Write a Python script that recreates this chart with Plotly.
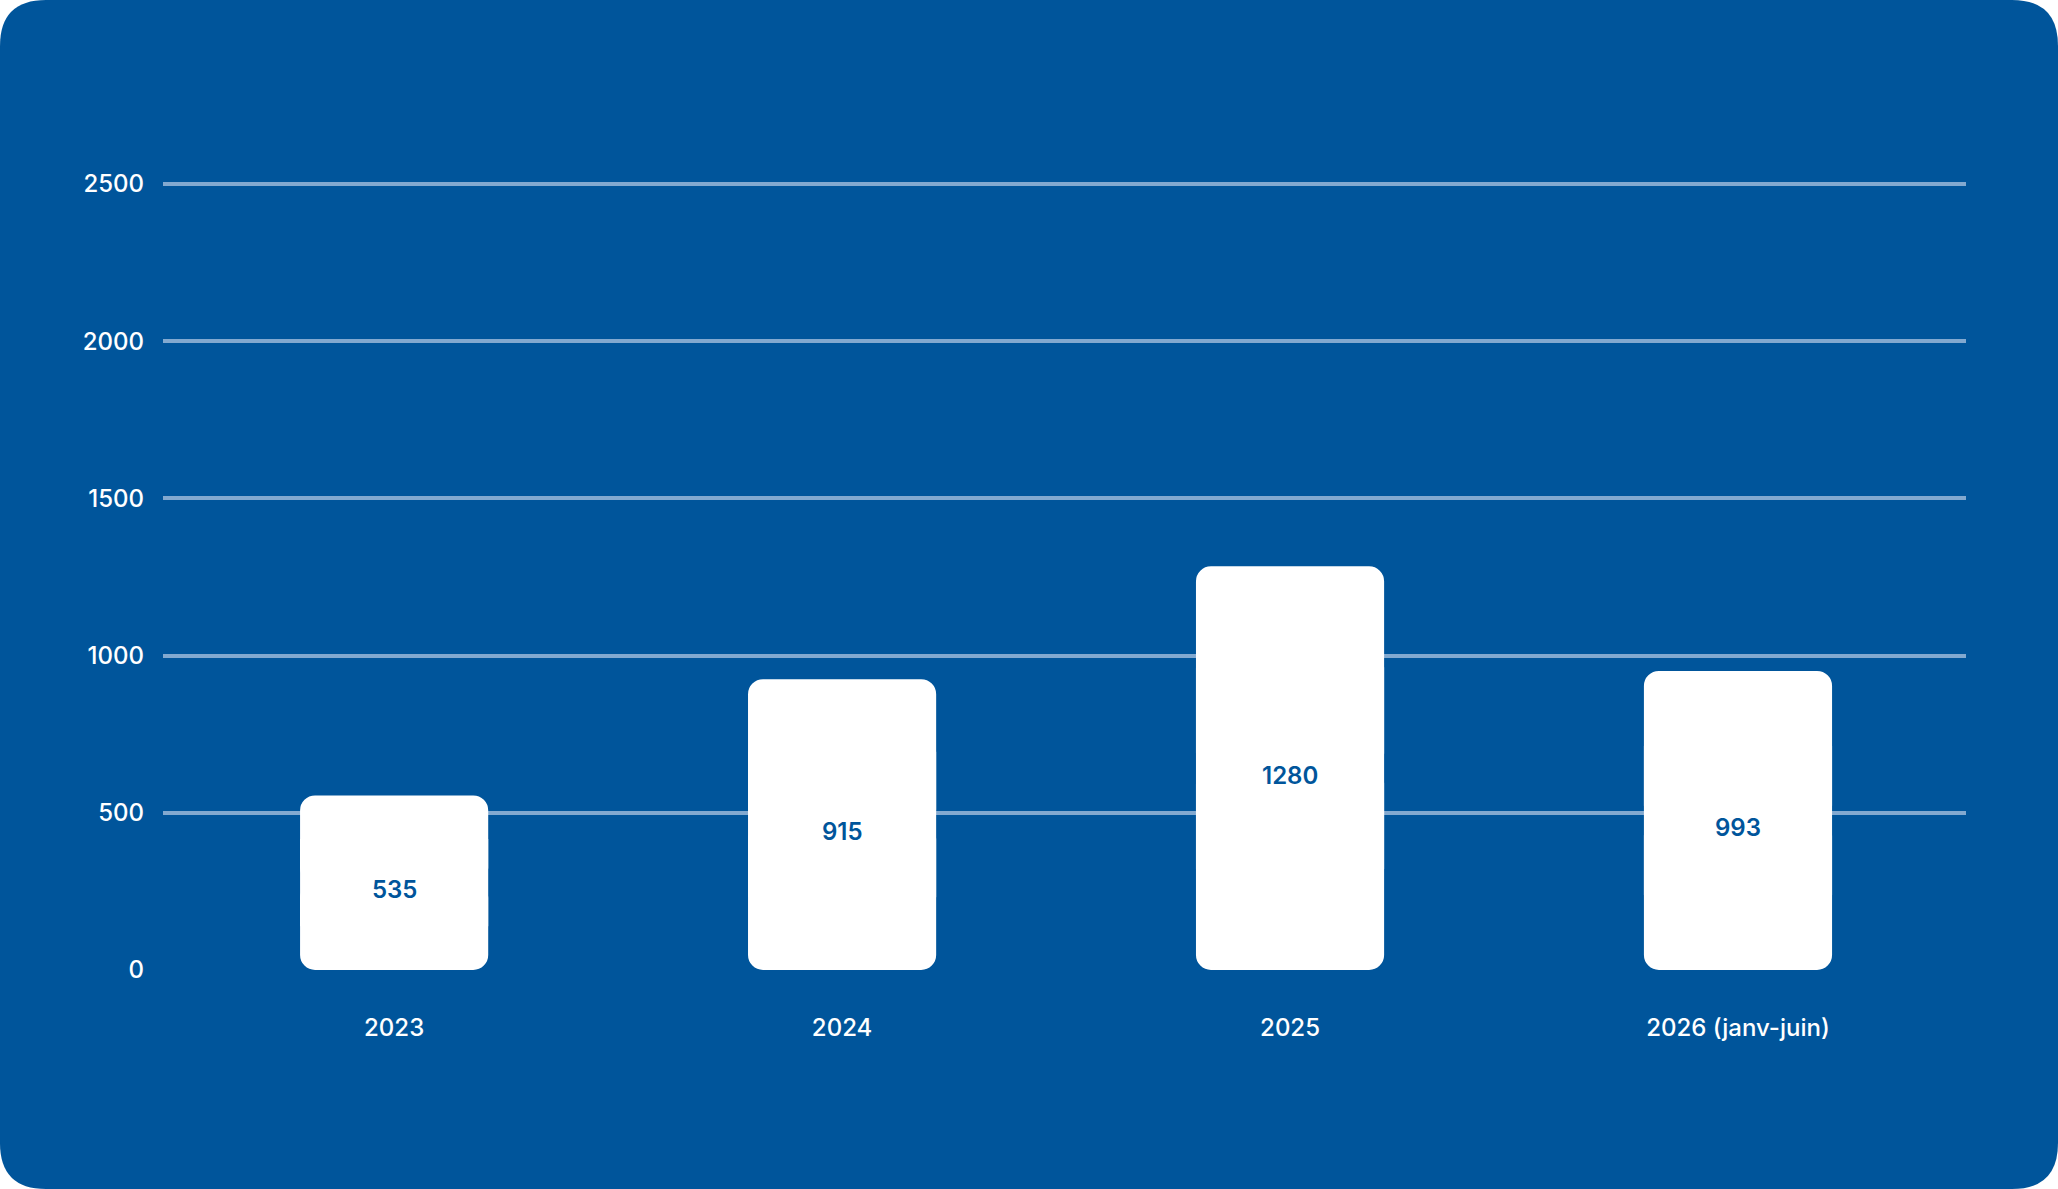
import plotly.graph_objects as go

categories = ["2023", "2024", "2025", "2026 (janv-juin)"]
# value labels printed on the bars
values = [535, 915, 1280, 993]
# bar heights as drawn in the picture
bar_heights = [555, 925, 1284, 951]
y_ticks = [0, 500, 1000, 1500, 2000, 2500]

BG = "#00559b"
GRID = "#82a9d0"
FONT = "Inter"

W, H = 2058, 1189
ml, mr, mt, mb = 163, 92, 182, 219
pw, ph = W - ml - mr, H - mt - mb

def px(x):
    return (x - ml) / pw

def py(y):
    return (H - mb - y) / ph

r = 46
pts = [
    f"M {px(r)} {py(0)}",
    f"L {px(W - r)} {py(0)}",
    f"Q {px(W)} {py(0)} {px(W)} {py(r)}",
    f"L {px(W)} {py(H - r)}",
    f"Q {px(W)} {py(H)} {px(W - r)} {py(H)}",
    f"L {px(r)} {py(H)}",
    f"Q {px(0)} {py(H)} {px(0)} {py(H - r)}",
    f"L {px(0)} {py(r)}",
    f"Q {px(0)} {py(0)} {px(r)} {py(0)}",
    "Z",
]
bg_path = " ".join(pts)

xpos = list(range(len(categories)))
mid = [h / 2 for h in bar_heights]
bw = 0.42
cr = 15

fig = go.Figure()
# upper half (rounded top)
fig.add_trace(go.Bar(
    x=xpos, y=[h - m for h, m in zip(bar_heights, mid)], base=mid,
    width=bw, marker=dict(color="white", line=dict(width=0), cornerradius=cr),
    hoverinfo="skip", showlegend=False,
))
# lower half (rounded bottom)
fig.add_trace(go.Bar(
    x=xpos, y=[-m for m in mid], base=mid,
    width=bw, marker=dict(color="white", line=dict(width=0), cornerradius=cr),
    hoverinfo="skip", showlegend=False,
))
# middle filler (square corners)
fig.add_trace(go.Bar(
    x=xpos, y=[m for m in mid], base=[m / 2 for m in mid],
    width=bw, marker=dict(color="white", line=dict(width=0)),
    hoverinfo="skip", showlegend=False,
))

annotations = [
    dict(x=xi, y=m, xref="x", yref="y", text=str(v), showarrow=False,
         yshift=-7, font=dict(family=FONT, size=24, color=BG, weight=600))
    for xi, m, v in zip(xpos, mid, values)
]

fig.update_layout(
    width=W, height=H,
    margin=dict(l=ml, r=mr, t=mt, b=mb, pad=0),
    paper_bgcolor="white",
    plot_bgcolor="rgba(0,0,0,0)",
    barmode="overlay",
    shapes=[dict(type="path", xref="paper", yref="paper", path=bg_path,
                 fillcolor=BG, line=dict(width=0), layer="below")],
    annotations=annotations,
    xaxis=dict(
        range=[-0.516, 3.509], tickvals=xpos, ticktext=categories,
        showgrid=False, zeroline=False, showline=False,
        ticks="", ticklabelstandoff=41,
        tickfont=dict(family=FONT, size=24, color="white", weight=500),
        fixedrange=True,
    ),
    yaxis=dict(
        range=[0, 2506], tickvals=y_ticks, ticktext=[str(t) for t in y_ticks],
        showgrid=True, gridcolor=GRID, gridwidth=4,
        zeroline=False, showline=False, ticks="", ticklabelstandoff=18,
        tickfont=dict(family=FONT, size=24, color="white", weight=500),
        fixedrange=True,
    ),
)

fig.write_html("out.html")
